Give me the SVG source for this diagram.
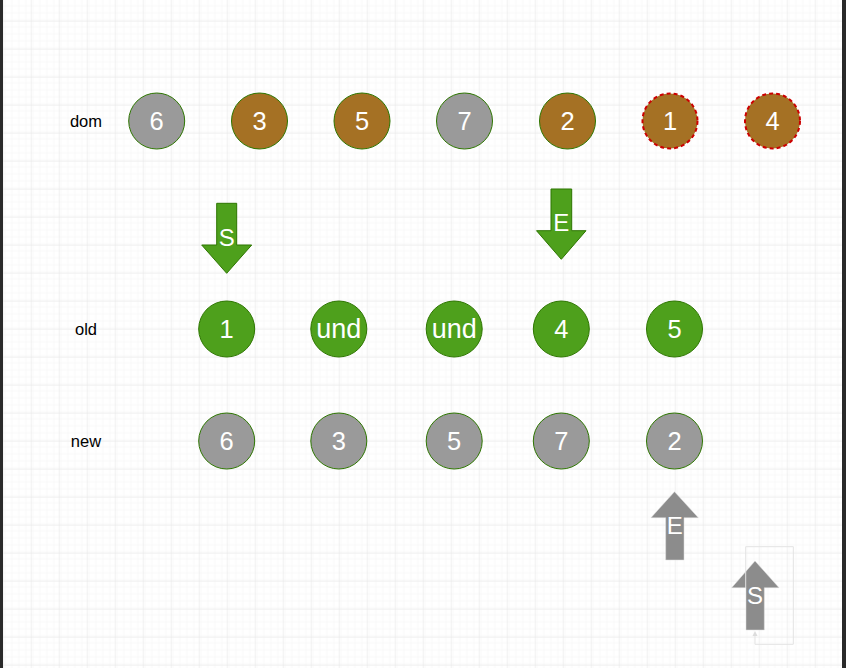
<svg xmlns="http://www.w3.org/2000/svg" width="846" height="668" viewBox="0 0 846 668">
<defs>
<pattern id="minor" width="7" height="7" patternUnits="userSpaceOnUse" x="2.7" y="20.7">
<path d="M7 0V7M0 7H7" fill="none" stroke="#f3f3f3" stroke-width="1"/>
</pattern>
<pattern id="major" width="28" height="28" patternUnits="userSpaceOnUse" x="2.7" y="20.7">
<rect width="28" height="28" fill="url(#minor)"/>
<path d="M0 0V28M0 0H28" fill="none" stroke="#e4e4e4" stroke-width="1"/>
</pattern>
<style>
.gray{fill:#9a9a9a;stroke:#2d7600;stroke-width:1}
.brown{fill:#a57124;stroke:#2d7600;stroke-width:1}
.red{fill:#a57124;stroke:#cc0000;stroke-width:2;stroke-dasharray:4 3}
.green{fill:#4ea01c;stroke:#2d7600;stroke-width:1}
.t{font-family:"Liberation Sans",Arial,sans-serif;font-size:25.5px;fill:#ffffff;text-anchor:middle;dominant-baseline:central}
.u{font-size:27px}
.lbl{font-family:"Liberation Sans",Arial,sans-serif;font-size:16.5px;fill:#000000;text-anchor:middle;dominant-baseline:central}
.ga{fill:#4ea01c;stroke:#2d7600;stroke-width:1}
.aa{fill:#8c8c8c;stroke:#dddddd;stroke-width:0.5}
.at{font-family:"Liberation Sans",Arial,sans-serif;font-size:24px;fill:#ffffff;text-anchor:middle;dominant-baseline:central}
</style>
</defs>
<rect width="846" height="668" fill="#ffffff"/>
<rect width="846" height="668" fill="url(#major)"/>
<rect x="0" y="0" width="3" height="668" fill="#2a2a2a"/>
<rect x="842" y="0" width="4" height="668" fill="#2a2a2a"/>

<g id="label-dom"><text class="lbl" x="86" y="121">dom</text></g>
<g id="label-old"><text class="lbl" x="86" y="329">old</text></g>
<g id="label-new"><text class="lbl" x="86" y="441">new</text></g>

<g id="dom-6"><circle class="gray" cx="156.7" cy="121" r="28"/><text class="t" x="156.7" y="121">6</text></g>
<g id="dom-3"><circle class="brown" cx="259.5" cy="121" r="28"/><text class="t" x="259.5" y="121">3</text></g>
<g id="dom-5"><circle class="brown" cx="362" cy="121" r="28"/><text class="t" x="362" y="121">5</text></g>
<g id="dom-7"><circle class="gray" cx="464.5" cy="121" r="28"/><text class="t" x="464.5" y="121">7</text></g>
<g id="dom-2"><circle class="brown" cx="567.5" cy="121" r="28"/><text class="t" x="567.5" y="121">2</text></g>
<g id="dom-1"><circle class="red" cx="670" cy="121" r="27.5"/><text class="t" x="670" y="121">1</text></g>
<g id="dom-4"><circle class="red" cx="772.5" cy="121" r="27.5"/><text class="t" x="772.5" y="121">4</text></g>

<g id="old-1"><circle class="green" cx="226.7" cy="329" r="28"/><text class="t" x="226.7" y="329">1</text></g>
<g id="old-und1"><circle class="green" cx="338.8" cy="329" r="28"/><text class="t u" x="338.8" y="329">und</text></g>
<g id="old-und2"><circle class="green" cx="454.2" cy="329" r="28"/><text class="t u" x="454.2" y="329">und</text></g>
<g id="old-4"><circle class="green" cx="561.3" cy="329" r="28"/><text class="t" x="561.3" y="329">4</text></g>
<g id="old-5"><circle class="green" cx="674.5" cy="329" r="28"/><text class="t" x="674.5" y="329">5</text></g>

<g id="new-6"><circle class="gray" cx="226.7" cy="441" r="28"/><text class="t" x="226.7" y="441">6</text></g>
<g id="new-3"><circle class="gray" cx="338.8" cy="441" r="28"/><text class="t" x="338.8" y="441">3</text></g>
<g id="new-5"><circle class="gray" cx="454.2" cy="441" r="28"/><text class="t" x="454.2" y="441">5</text></g>
<g id="new-7"><circle class="gray" cx="561.3" cy="441" r="28"/><text class="t" x="561.3" y="441">7</text></g>
<g id="new-2"><circle class="gray" cx="674.5" cy="441" r="28"/><text class="t" x="674.5" y="441">2</text></g>

<g id="arrow-S-old"><path class="ga" d="M216.7 203.3H236.7V245H251.7L226.7 273.3L201.7 245H216.7Z"/><text class="at" x="226.7" y="237">S</text></g>
<g id="arrow-E-old"><path class="ga" d="M551 189H571.7V230.7H586L561.3 259.3L536.5 230.7H551Z"/><text class="at" x="561.3" y="222">E</text></g>
<g id="arrow-E-new"><path class="aa" d="M674.5 491.7L698.3 517.7H684V560H665.7V517.7H651Z"/><text class="at" x="674.8" y="525">E</text></g>
<g id="arrow-S-new"><path class="aa" d="M755 561L779 587.7H764.3V630H746V587.7H731.7Z"/><text class="at" x="755" y="595">S</text></g>

<g id="connectors">
<path d="M755 634V644.3H793.3V546.7H745.7V588" fill="none" stroke="#e3e3e3" stroke-width="1"/>
<path d="M755 631L752.5 636H757.5Z" fill="#dcdcdc"/>
</g>
</svg>
